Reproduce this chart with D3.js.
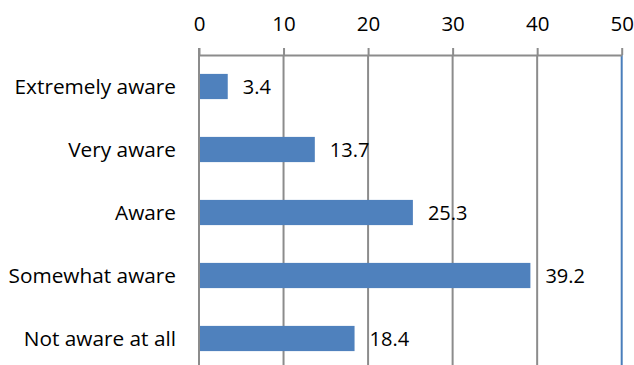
<!DOCTYPE html>
<html>
<head>
<meta charset="utf-8">
<script src="https://cdn.jsdelivr.net/npm/d3@7"></script>
<style>
  html, body { margin: 0; padding: 0; background: #fff; }
  svg { display: block; font-family: "Open Sans", "Noto Sans", sans-serif; }
</style>
</head>
<body>
<svg id="chart" width="634" height="365"></svg>
<script>
const categories = ["Extremely aware", "Very aware", "Aware", "Somewhat aware", "Not aware at all"];
const values = [3.4, 13.7, 25.3, 39.2, 18.4];
const tickValues = [0, 10, 20, 30, 40, 50];

const svg = d3.select("#chart");
const margin = { left: 199, right: 13, top: 55 };

const x = d3.scaleLinear().domain([0, 50]).range([margin.left, 634 - margin.right + 0.7]);
const y = d3.scaleBand().domain(categories).range([margin.top, 370]).paddingInner(0.6).paddingOuter(0.3);

const gridColor = "#8c8c8c";

// vertical gridlines
svg.append("g").selectAll("line").data(tickValues.slice(1, -1)).join("line")
  .attr("x1", d => x(d)).attr("x2", d => x(d))
  .attr("y1", margin.top).attr("y2", 365)
  .attr("stroke", gridColor).attr("stroke-width", 2);

// right border line
svg.append("line")
  .attr("x1", x(50)).attr("x2", x(50))
  .attr("y1", margin.top).attr("y2", 365)
  .attr("stroke", "#4a7ebb").attr("stroke-width", 2);

// top axis
const axis = d3.axisTop(x).tickValues(tickValues).tickSize(7).tickPadding(17).tickSizeOuter(0);
const ax = svg.append("g").attr("transform", `translate(0,${margin.top})`).call(axis);
ax.select(".domain").attr("stroke", gridColor).attr("stroke-width", 2);
ax.selectAll(".tick line").attr("stroke", gridColor).attr("stroke-width", 2);
ax.selectAll(".tick text").attr("font-size", 20.5).attr("fill", "#000")
  .attr("font-family", "'Open Sans', sans-serif");

// left axis line
svg.append("line")
  .attr("x1", x(0)).attr("x2", x(0))
  .attr("y1", margin.top - 7).attr("y2", 365)
  .attr("stroke", gridColor).attr("stroke-width", 2);

// bars
svg.append("g").selectAll("rect").data(values).join("rect")
  .attr("x", x(0) + 1)
  .attr("y", (d, i) => y(categories[i]))
  .attr("width", d => x(d) - x(0) - 1)
  .attr("height", y.bandwidth())
  .attr("fill", "#4f81bd");

// value labels
svg.append("g").selectAll("text").data(values).join("text")
  .attr("x", d => x(d) + 15)
  .attr("y", (d, i) => y(categories[i]) + y.bandwidth() / 2)
  .attr("dy", "0.35em")
  .attr("font-size", 20)
  .attr("fill", "#000")
  .text(d => d.toFixed(1));

// category labels
svg.append("g").selectAll("text").data(categories).join("text")
  .attr("x", 176)
  .attr("y", d => y(d) + y.bandwidth() / 2)
  .attr("dy", "0.35em")
  .attr("text-anchor", "end")
  .attr("font-size", 20.8)
  .attr("fill", "#000")
  .text(d => d);
</script>
</body>
</html>
